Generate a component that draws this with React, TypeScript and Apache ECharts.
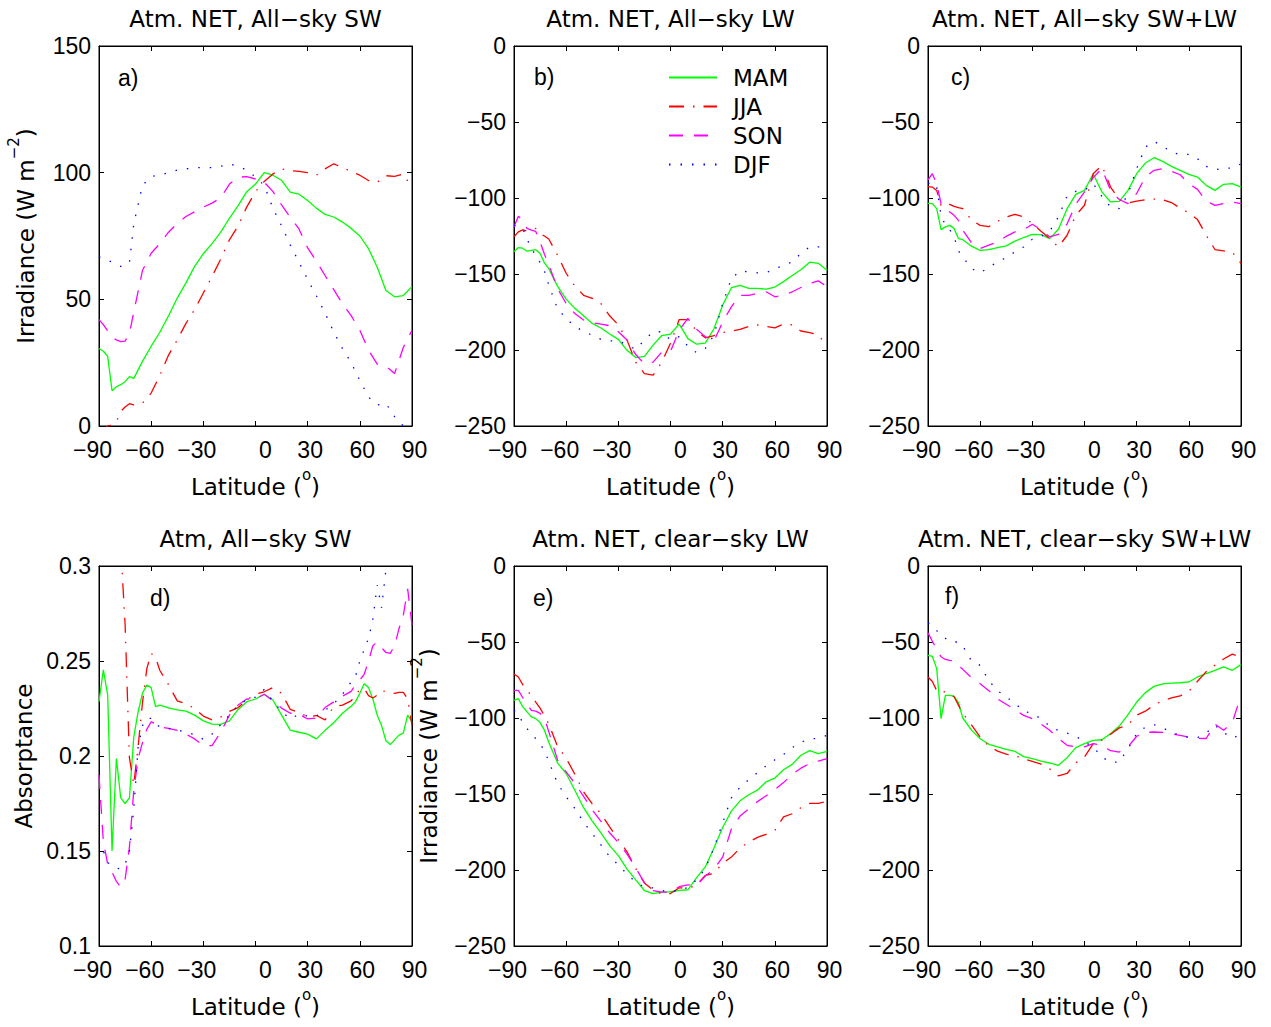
import React, { useEffect, useRef } from "react";
import * as echarts from "echarts";

// ---------------- DATA ----------------
const LAT = [-90, -87.5, -85, -82.5, -80, -77.5, -75, -72.5, -70, -65, -60, -55, -50, -45, -40, -35, -30, -25, -20, -15, -10, -5, 0, 5, 10, 15, 20, 25, 30, 35, 40, 45, 50, 55, 60, 65, 70, 75, 80, 85, 90];
const LAT_D = [-90, -87.5, -85, -82.5, -80, -77.5, -75, -72.5, -70, -67.5, -65, -62.5, -60, -57.5, -55, -50, -45, -40, -35, -30, -25, -20, -15, -10, -5, 0, 5, 10, 15, 20, 25, 30, 35, 40, 45, 50, 55, 57.5, 60, 62.5, 65, 67.5, 70, 72.5, 75, 77.5, 80, 82.5, 85, 87.5, 90];

const SEASONS = ["MAM", "JJA", "SON", "DJF"];

// a) Atm. NET, All-sky SW
const A_MAM = [30.6, 29.5, 27.5, 13.9, 15.5, 16.3, 17.5, 19.5, 18.8, 25.5, 31.5, 37, 43.5, 50.5, 56.5, 63, 68, 72, 76.5, 82, 87, 92.5, 95.5, 100, 99, 97, 92.3, 91.5, 89, 86, 83.5, 82.5, 80.5, 78, 75, 70, 62.7, 53.5, 51, 51.5, 55];
const A_JJA = [-3, -2, 0, 0.3, 1.7, 5.8, 7.5, 8.8, 8.3, 9, 13, 20, 28, 34, 40.5, 46, 52.5, 59, 65.9, 73.5, 79, 86.5, 92.5, 96.5, 99.5, 101.5, 100.8, 100.5, 100, 99, 101.5, 103.5, 102, 100.5, 99, 96.9, 96.2, 98.8, 98.5, 99.5, 94];
const A_SON = [42, 40, 37.5, 35, 34, 33.3, 33.5, 36.5, 45, 61.4, 68.2, 72, 76.5, 80, 82.7, 84.6, 86.4, 88, 90, 95.5, 98.2, 98.4, 97.5, 96.2, 92.6, 87.3, 82.4, 77.8, 70.3, 65.1, 59.4, 53.8, 48.3, 43.6, 37.8, 29.9, 24.4, 23.6, 20.7, 31, 37.8];
const A_DJF = [66.8, 66.2, 65.4, 64.7, 63.8, 63, 63.3, 64.5, 79.8, 95, 98.5, 99, 100, 101, 101.5, 102, 102, 102, 102.5, 103.5, 102.5, 101, 98.3, 95, 86, 79, 71.5, 64.7, 57.8, 51.4, 44.6, 37.1, 30.6, 25, 18, 11.4, 8.3, 8.9, 3.7, 0, 0];

// b) Atm. NET, All-sky LW
const B_MAM = [-135.4, -132.6, -133, -135, -134.5, -134, -136.5, -142.7, -146.5, -158, -166.5, -172.6, -177.5, -182.5, -185.5, -189.5, -193, -200.2, -205, -204.2, -196.8, -190.5, -189.5, -183, -192.5, -196.2, -195.5, -186, -170.5, -159, -157.5, -159.5, -159.5, -160, -158.6, -155, -151, -147.2, -142.2, -143, -147.5];
const B_JJA = [-125.5, -122.3, -121, -121.7, -121, -120, -123.5, -125, -127, -137.5, -149.5, -158, -164, -166, -169.5, -177.5, -183.5, -193.5, -208, -215.5, -216.5, -208, -195.5, -180, -180, -187.5, -192, -190.5, -188.5, -187.5, -186.5, -184.5, -183.5, -184.5, -185.5, -183, -183.5, -187.5, -188.5, -190, -197.5];
const B_SON = [-119, -112, -114.7, -120, -121.2, -122, -129, -137, -143.8, -159.5, -169.4, -176, -180.3, -182, -183, -184, -188, -193.4, -203, -209.2, -208, -201.3, -201, -187, -179.2, -186.4, -191.2, -194, -181.6, -171.6, -164, -164, -162.8, -161.7, -165, -163.9, -161.7, -158.9, -156.2, -154.5, -158.4];
const B_DJF = [-118, -119, -120, -127, -133.3, -137.6, -142.5, -148, -157.3, -172.9, -179.2, -184.7, -187.5, -190.4, -193, -194, -193.9, -196.7, -199.6, -193.4, -188, -188, -193.4, -191.2, -197.4, -201.8, -199, -190.2, -169.4, -153, -148, -148.6, -149.2, -149.2, -146.6, -144.4, -142, -136.5, -132.2, -132.2, -132.2];

// c) Atm. NET, All-sky SW+LW
const C_MAM = [-103.5, -103.7, -107, -120.8, -119, -118, -120, -126.7, -127.4, -131.7, -134.4, -134, -132.6, -131.5, -128.4, -126, -123.9, -124.1, -126.7, -120.6, -107, -97.6, -95, -84, -96, -102.6, -102.2, -95, -84, -77, -73.5, -75.9, -79.2, -81.8, -84.5, -86.2, -91.7, -95, -91, -90.6, -92.8];
const C_JJA = [-92.5, -92.8, -95, -104.8, -106, -104.2, -105.5, -106.3, -107, -114.5, -118, -118.8, -115.3, -112.5, -110.7, -112.5, -116.8, -121.9, -126.7, -132.2, -124.5, -111.4, -104.8, -84, -78.6, -92.8, -101.1, -103.3, -102, -101.1, -100.7, -101.1, -103, -106.6, -109.8, -114.2, -124.5, -133.9, -134.8, -135.5, -143.1];
const C_SON = [-88, -84, -90.6, -103.7, -107, -109.2, -111.4, -114.7, -121.2, -129.5, -133.3, -131, -128.9, -125.2, -122.3, -120.8, -117.3, -120.8, -125.6, -124, -117, -104, -96, -86.6, -80.7, -95, -101, -103.7, -97, -86.2, -81.8, -80.7, -82.5, -84.7, -90.6, -94.3, -102, -104.8, -103.7, -102.6, -103.7];
const C_DJF = [-90.5, -89.5, -92.8, -111.4, -118, -120.8, -125.6, -134.8, -138.7, -146.4, -149.2, -145.7, -142, -139.2, -135.4, -132.2, -127.1, -125.2, -121.9, -112.5, -98.7, -95.6, -95, -90.6, -98.9, -105.9, -107, -97.6, -80.7, -66.5, -62.8, -65.9, -69.8, -71.6, -71.3, -74.2, -79.2, -81.4, -80.3, -80.3, -77.5];

// d) Atm, All-sky SW absorptance
const D_MAM = [0.2286, 0.2453, 0.232, 0.15, 0.1987, 0.178, 0.175, 0.178, 0.21, 0.2233, 0.233, 0.2373, 0.236, 0.226, 0.2268, 0.2253, 0.2243, 0.2236, 0.2215, 0.2185, 0.2168, 0.2166, 0.2185, 0.2245, 0.2286, 0.23, 0.2325, 0.2295, 0.2215, 0.2136, 0.2125, 0.2115, 0.209, 0.2135, 0.2175, 0.2225, 0.2262, 0.2285, 0.233, 0.238, 0.236, 0.23, 0.2215, 0.216, 0.208, 0.206, 0.2085, 0.211, 0.212, 0.2215, 0.218];
const D_JJA = [0.34, 0.34, 0.34, 0.33, 0.32, 0.31, 0.2695, 0.199, 0.185, 0.205, 0.228, 0.246, 0.254, 0.252, 0.245, 0.2375, 0.229, 0.2275, 0.225, 0.221, 0.219, 0.2205, 0.2235, 0.2255, 0.2295, 0.2325, 0.2338, 0.236, 0.233, 0.2245, 0.223, 0.2205, 0.2213, 0.219, 0.226, 0.2268, 0.229, 0.232, 0.235, 0.2355, 0.2318, 0.2305, 0.232, 0.2345, 0.2338, 0.2335, 0.233, 0.2335, 0.2335, 0.23, 0.2163];
const D_SON = [0.19, 0.155, 0.143, 0.139, 0.134, 0.131, 0.135, 0.152, 0.182, 0.1987, 0.207, 0.214, 0.218, 0.217, 0.2154, 0.2145, 0.2135, 0.2115, 0.209, 0.2055, 0.2055, 0.2125, 0.2215, 0.2268, 0.23, 0.23, 0.2325, 0.229, 0.2252, 0.2225, 0.222, 0.2195, 0.22, 0.2255, 0.2285, 0.2315, 0.234, 0.2375, 0.24, 0.243, 0.25, 0.258, 0.26, 0.257, 0.2545, 0.254, 0.258, 0.267, 0.274, 0.288, 0.269];
const D_DJF = [0.155, 0.15, 0.144, 0.142, 0.141, 0.1405, 0.143, 0.15, 0.172, 0.2048, 0.216, 0.2198, 0.2198, 0.217, 0.2152, 0.2145, 0.2137, 0.2125, 0.2112, 0.2088, 0.2115, 0.2165, 0.2215, 0.2268, 0.2295, 0.231, 0.235, 0.229, 0.2233, 0.2195, 0.222, 0.221, 0.221, 0.224, 0.2275, 0.2325, 0.239, 0.2418, 0.25, 0.256, 0.2619, 0.272, 0.29, 0.278, 0.298, 0.31, 0.32, 0.33, 0.33, 0.33, 0.33];

// e) Atm. NET, clear-sky LW
const E_MAM = [-88.4, -87.3, -92.5, -96, -99.3, -100.4, -103, -108, -116, -129.5, -136.5, -147.5, -159, -167.8, -175.6, -184, -190.5, -199.4, -206.5, -213.5, -215.5, -214.5, -214.3, -213.4, -213, -205, -198, -185.5, -172, -161.3, -154.5, -150.5, -147.5, -142, -139.5, -134, -130.5, -124.5, -121.5, -123.5, -122];
const E_JJA = [-71, -73, -78, -81.5, -85.5, -89.5, -93.5, -98.5, -104, -118.5, -126.5, -137, -148.5, -156.5, -163, -171.6, -180, -188, -199, -208.5, -213.2, -215.8, -215.5, -211.7, -212, -210, -203.5, -202.2, -195.5, -191.5, -185.5, -181.6, -178.5, -176.5, -174, -165, -163, -159, -156.2, -156.2, -154.8];
const E_SON = [-81.8, -81.8, -86.5, -91, -95, -95.5, -97, -100, -109, -127.5, -135.5, -143, -151.5, -160.5, -168, -175.5, -182, -189.5, -198.5, -208.5, -213.5, -214.5, -214.5, -211, -209.8, -210, -204, -199.5, -191.5, -173, -164.5, -159.8, -155, -151.2, -147, -142.5, -137, -133, -130, -128.3, -126.8];
const E_DJF = [-95, -97.1, -103.3, -107, -110.3, -113.6, -116.9, -121.7, -128.5, -143, -151.8, -159.5, -168.5, -176, -183.5, -191.2, -196.6, -202.7, -208, -211.3, -211.8, -213.5, -214.3, -213.5, -211.5, -206.5, -199, -185.5, -169, -152.5, -145.5, -140.5, -136, -131.5, -127.5, -124, -119.5, -116, -113.6, -113.5, -111.4];

// f) Atm. NET, clear-sky SW+LW
const F_MAM = [-58.8, -59.4, -67.5, -100.4, -85.1, -85.1, -85.7, -89.9, -100, -108, -113.6, -117.3, -119, -120.6, -121.9, -125.4, -126.8, -128.3, -129.6, -131.1, -126.1, -119.5, -116.9, -114.7, -114.3, -110.3, -105.3, -97.8, -89.5, -83.3, -79.2, -77.6, -77, -76.8, -76.3, -73, -70.8, -68.6, -66.4, -68.6, -64.9];
const F_JJA = [-73, -76, -82, -83.5, -82.5, -84, -86, -91.5, -97, -104.5, -112.5, -118.5, -121.8, -123.8, -124.7, -127, -128.5, -130.3, -133.5, -138, -136.5, -129.5, -125.7, -117, -114.5, -110.7, -106.5, -104.5, -98.2, -95.5, -91.5, -88.5, -86.8, -85.5, -82.5, -75.8, -69.5, -65.3, -61.2, -58, -59.9];
const F_SON = [-44, -49.5, -55, -59.7, -61.5, -62.1, -62.5, -65.5, -68, -73.5, -77.5, -82, -87.5, -91, -94.5, -98.3, -100.5, -104, -108, -113.5, -118, -119, -119, -116.9, -118, -121.5, -122.4, -119, -112, -109.5, -109.2, -109.5, -110.5, -111.4, -112.5, -113.4, -113.5, -104, -108, -103, -85.1];
const F_DJF = [-37.5, -39, -42.5, -45.4, -47.5, -49.7, -50, -50, -52.6, -62.5, -65.4, -75.4, -82, -86.2, -90.2, -95.5, -97.1, -100.5, -105.3, -108.3, -110, -112, -115.8, -119, -125.7, -129, -129, -120.2, -110.3, -106, -104.4, -106.6, -109.2, -111.4, -112.9, -112.9, -109.9, -104.8, -109.6, -113.2, -111];

const TITLES = [
  "Atm. NET, All\u2212sky SW",
  "Atm. NET, All\u2212sky LW",
  "Atm. NET, All\u2212sky SW+LW",
  "Atm, All\u2212sky SW",
  "Atm. NET, clear\u2212sky LW",
  "Atm. NET, clear\u2212sky SW+LW",
];
const LETTERS = ["a)", "b)", "c)", "d)", "e)", "f)"];
const X_NAME = "Latitude ({sup|o})";
const IRR_NAME = "Irradiance (W m{sup|\u22122})";

const PANELS = [
  { lat: LAT, vals: [A_MAM, A_JJA, A_SON, A_DJF], min: 0, max: 150, interval: 50, yName: IRR_NAME },
  { lat: LAT, vals: [B_MAM, B_JJA, B_SON, B_DJF], min: -250, max: 0, interval: 50, yName: "" },
  { lat: LAT, vals: [C_MAM, C_JJA, C_SON, C_DJF], min: -250, max: 0, interval: 50, yName: "" },
  { lat: LAT_D, vals: [D_MAM, D_JJA, D_SON, D_DJF], min: 0.1, max: 0.3, interval: 0.05, yName: "Absorptance" },
  { lat: LAT, vals: [E_MAM, E_JJA, E_SON, E_DJF], min: -250, max: 0, interval: 50, yName: IRR_NAME },
  { lat: LAT, vals: [F_MAM, F_JJA, F_SON, F_DJF], min: -250, max: 0, interval: 50, yName: "" },
];

// ---------------- STYLE / LAYOUT ----------------
const FONT = "'Liberation Sans', Arial, Helvetica, sans-serif";
const WFONT = "'DejaVu Sans', 'Liberation Sans', Arial, sans-serif";
const FS = 23;
const COLORS = ["#00ff00", "#ff0000", "#ff00ff", "#0000ff"];
const DASH: any[] = ["solid", [15, 9, 1.5, 9], [14, 11], [1.5, 10]];
const GRID_LEFT = [99, 514, 928];
const GRID_TOP = [46, 566];
const GRID_W = 313;
const GRID_H = 380;
const Y_NAME_GAP = [54, 0, 0, 64, 66, 0];
const TITLE_Y = [19, 539];
const LETTER_POS = [[118, 78], [534, 77], [951, 77], [150, 598], [533, 598], [945, 596]];

const minus = (s: string) => s.replace(/-/g, "\u2212");

const supRich = {
  sup: { fontSize: 15, fontFamily: WFONT, color: "#000", padding: [0, 0, 24, 0], verticalAlign: "middle" },
};

function buildOption() {
  const grid: any[] = [];
  const xAxis: any[] = [];
  const yAxis: any[] = [];
  const series: any[] = [];
  const graphic: any[] = [];

  PANELS.forEach((p, i) => {
    const col = i % 3;
    const row = Math.floor(i / 3);
    const left = GRID_LEFT[col];
    const top = GRID_TOP[row];
    grid.push({ left, top, width: GRID_W, height: GRID_H, show: true, borderColor: "#000", borderWidth: 1, backgroundColor: "#fff" });

    const tick = { show: true, inside: true, length: 5, lineStyle: { color: "#000", width: 1 } };
    const line = { show: true, onZero: false, lineStyle: { color: "#000", width: 1 } };

    xAxis.push({
      gridIndex: i, type: "value", min: -90, max: 90, interval: 30, position: "bottom",
      axisLine: line, axisTick: tick, splitLine: { show: false },
      axisLabel: {
        color: "#000", fontSize: FS, fontFamily: FONT, margin: 12,
        formatter: (v: number) => {
          const s = minus(String(v));
          if (v < 0) return `{n|${s}}`;
          if (v === 0) return `{z|${s}}`;
          return `{p|${s}}`;
        },
        rich: {
          n: { fontSize: FS, fontFamily: FONT, color: "#000", padding: [0, 13, 0, 0] },
          z: { fontSize: FS, fontFamily: FONT, color: "#000", padding: [0, 0, 0, 20] },
          p: { fontSize: FS, fontFamily: FONT, color: "#000", padding: [0, 0, 0, 5] },
        },
      },
      name: X_NAME, nameLocation: "middle", nameGap: 41,
      nameTextStyle: { color: "#000", fontSize: FS, fontFamily: WFONT, rich: supRich },
    });
    xAxis.push({
      gridIndex: i, type: "value", min: -90, max: 90, interval: 30, position: "top",
      axisLine: line, axisTick: tick, splitLine: { show: false }, axisLabel: { show: false },
    });

    yAxis.push({
      gridIndex: i, type: "value", min: p.min, max: p.max, interval: p.interval, position: "left",
      axisLine: line, axisTick: tick, splitLine: { show: false },
      axisLabel: {
        color: "#000", fontSize: FS, fontFamily: FONT, margin: 8,
        formatter: (v: number) => minus(String(+v.toFixed(2))),
      },
      name: p.yName, nameLocation: "middle", nameGap: Y_NAME_GAP[i],
      nameTextStyle: { color: "#000", fontSize: FS, fontFamily: WFONT, rich: supRich },
    });
    yAxis.push({
      gridIndex: i, type: "value", min: p.min, max: p.max, interval: p.interval, position: "right",
      axisLine: line, axisTick: tick, splitLine: { show: false }, axisLabel: { show: false },
    });

    p.vals.forEach((arr, k) => {
      series.push({
        type: "line", name: SEASONS[k], xAxisIndex: 2 * i, yAxisIndex: 2 * i,
        data: p.lat.map((x, j) => [x, arr[j]]),
        symbol: "none", showSymbol: false, clip: true, silent: true,
        lineStyle: { color: COLORS[k], width: 1.3, type: DASH[k] },
        itemStyle: { color: COLORS[k] },
        emphasis: { disabled: true },
      });
    });

    graphic.push({
      type: "text", x: left + GRID_W / 2, y: TITLE_Y[row],
      style: { text: TITLES[i], fontSize: FS, fontFamily: WFONT, fill: "#000", align: "center", verticalAlign: "middle", textAlign: "center", textVerticalAlign: "middle" },
    });
    graphic.push({
      type: "text", x: LETTER_POS[i][0], y: LETTER_POS[i][1],
      style: { text: LETTERS[i], fontSize: FS, fontFamily: FONT, fill: "#000", align: "left", verticalAlign: "middle", textAlign: "left", textVerticalAlign: "middle" },
    });
  });

  return {
    animation: false,
    backgroundColor: "#fff",
    grid, xAxis, yAxis, series, graphic,
    legend: {
      data: SEASONS, orient: "vertical", left: 663, top: 61,
      itemWidth: 48, itemHeight: 14, itemGap: 6, selectedMode: false,
      itemStyle: { opacity: 0 },
      textStyle: { color: "#000", fontSize: FS, fontFamily: WFONT, padding: [0, 0, 0, 11] },
    },
  };
}

export default function App() {
  const ref = useRef<HTMLDivElement>(null);
  useEffect(() => {
    if (!ref.current) return;
    const chart = echarts.init(ref.current, undefined, { renderer: "svg" });
    chart.setOption(buildOption() as any);
    return () => chart.dispose();
  }, []);
  return (
    <div
      ref={ref}
      style={{ position: "absolute", left: 0, top: 0, width: 1271, height: 1027, background: "#fff" }}
    />
  );
}
